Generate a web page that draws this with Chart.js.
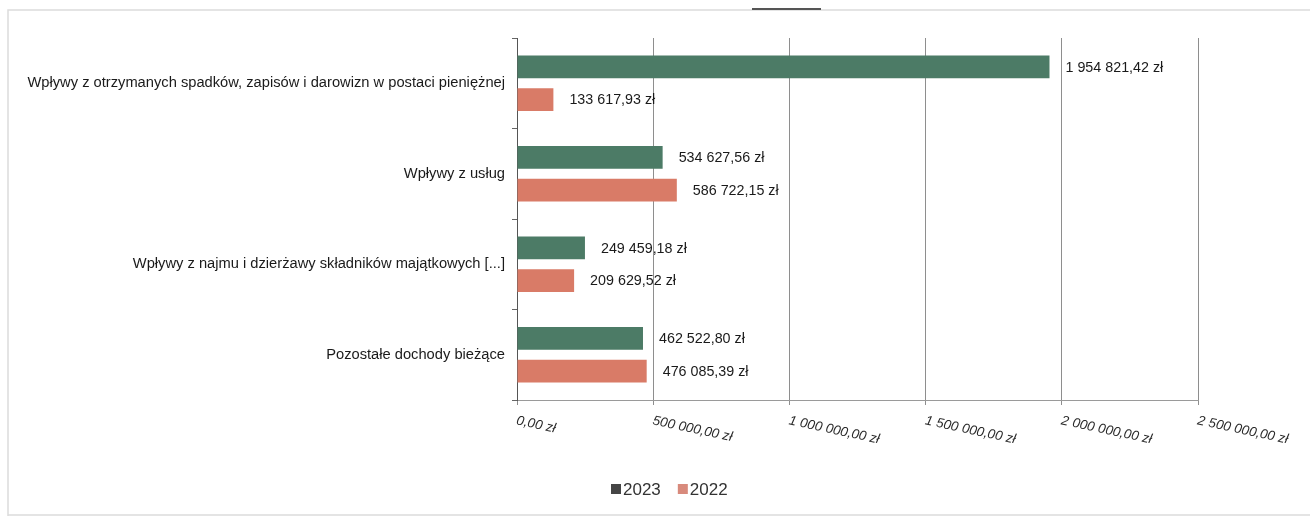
<!DOCTYPE html>
<html>
<head>
<meta charset="utf-8">
<script src="https://cdn.jsdelivr.net/npm/chart.js@4/dist/chart.umd.min.js"></script>
<style>
  html, body { margin: 0; padding: 0; background: #fff; }
  #wrap { width: 1310px; height: 519px; position: relative; }
</style>
</head>
<body>
<div id="wrap"><canvas id="myChart"></canvas></div>
<script>
// Chart data
const categories = [
    'Wpływy z otrzymanych spadków, zapisów i darowizn w postaci pieniężnej',
    'Wpływy z usług',
    'Wpływy z najmu i dzierżawy składników majątkowych [...]',
    'Pozostałe dochody bieżące'
];
const seriesNames = ['2023', '2022'];
const values2023 = [1954821.42, 534627.56, 249459.18, 462522.80];
const values2022 = [133617.93, 586722.15, 209629.52, 476085.39];
const xTicks = [0, 500000, 1000000, 1500000, 2000000, 2500000];

const barColors = ['#4c7b66', '#d97b67'];
const legendColors = ['#454545', '#d88a7c'];
const fontFamily = '"Liberation Sans", Arial, sans-serif';

// Polish money format: 1 954 821,42 zł
function formatZl(v) {
    const parts = v.toFixed(2).split('.');
    const intPart = parts[0].replace(/\B(?=(\d{3})+(?!\d))/g, ' ');
    return intPart + ',' + parts[1] + ' zł';
}

// Scan frame around the chart
const framePlugin = {
    id: 'frame',
    beforeDraw(chart) {
        const c = chart.ctx;
        c.save();
        c.strokeStyle = '#dcdcdc';
        c.lineWidth = 1.5;
        c.beginPath();
        c.moveTo(8, 516);
        c.lineTo(8, 10);
        c.lineTo(1310, 10);
        c.moveTo(8, 515);
        c.lineTo(1310, 515);
        c.stroke();
        c.strokeStyle = '#555';
        c.lineWidth = 2;
        c.beginPath();
        c.moveTo(752, 9);
        c.lineTo(821, 9);
        c.stroke();
        c.restore();
    }
};

// Value labels at the end of each bar
const valueLabels = {
    id: 'valueLabels',
    afterDatasetsDraw(chart) {
        const c = chart.ctx;
        c.save();
        c.font = '14.3px ' + fontFamily;
        c.fillStyle = '#1a1a1a';
        c.textAlign = 'left';
        c.textBaseline = 'middle';
        chart.data.datasets.forEach((ds, i) => {
            chart.getDatasetMeta(i).data.forEach((bar, j) => {
                c.fillText(formatZl(ds.data[j]), bar.x + 16, bar.y + 1);
            });
        });
        c.restore();
    }
};

// X tick labels slanted downwards, like in the source
const slantTicks = {
    id: 'slantTicks',
    afterDraw(chart) {
        const sc = chart.scales.x;
        const c = chart.ctx;
        c.save();
        c.font = 'italic 13.5px ' + fontFamily;
        c.fillStyle = '#2a2a2a';
        c.textAlign = 'left';
        c.textBaseline = 'top';
        sc.ticks.forEach((t) => {
            const x = sc.getPixelForValue(t.value);
            c.save();
            c.translate(x + 1, sc.top + 14);
            c.rotate(12 * Math.PI / 180);
            c.fillText(formatZl(t.value), 0, 0);
            c.restore();
        });
        c.restore();
    }
};

// Legend drawn by hand (legend marker for 2023 is dark grey in the source)
const bottomLegend = {
    id: 'bottomLegend',
    afterDraw(chart) {
        const c = chart.ctx;
        c.save();
        c.font = '17px ' + fontFamily;
        c.textBaseline = 'middle';
        c.textAlign = 'left';
        let x = 611;
        const y = 489;
        seriesNames.forEach((name, i) => {
            c.fillStyle = legendColors[i];
            c.fillRect(x, y - 5, 10, 10);
            c.fillStyle = '#333';
            c.fillText(name, x + 12, y + 1);
            x += 12 + c.measureText(name).width + 17;
        });
        c.restore();
    }
};

const canvas = document.getElementById('myChart');
const ctx = canvas.getContext('2d');

const myChart = new Chart(ctx, {
    type: 'bar',
    data: {
        labels: categories,
        datasets: [
            { label: seriesNames[0], data: values2023, backgroundColor: barColors[0] },
            { label: seriesNames[1], data: values2022, backgroundColor: barColors[1] }
        ]
    },
    options: {
        indexAxis: 'y',
        responsive: true,
        maintainAspectRatio: false,
        animation: false,
        categoryPercentage: 0.72,
        barPercentage: 0.7,
        layout: { padding: { top: 38, right: 112, left: 0, bottom: 0 } },
        plugins: {
            legend: { display: false },
            tooltip: { enabled: false }
        },
        scales: {
            x: {
                min: 0,
                max: 2500000,
                afterBuildTicks(scale) {
                    scale.ticks = xTicks.map(v => ({ value: v }));
                },
                afterFit(scale) { scale.height = 519 - 400; },
                grid: { color: '#8e8e8e', lineWidth: 1, tickLength: 5 },
                border: { color: '#9a9a9a' },
                ticks: { color: 'rgba(0,0,0,0)', maxRotation: 0, autoSkip: false, callback: v => formatZl(v) }
            },
            y: {
                afterFit(scale) { scale.width = 517; },
                grid: { drawOnChartArea: false, color: '#666', tickLength: 5 },
                border: { color: '#555' },
                ticks: {
                    color: '#1a1a1a',
                    padding: 7,
                    font: { family: fontFamily, size: 14.7 }
                }
            }
        }
    },
    plugins: [framePlugin, valueLabels, slantTicks, bottomLegend]
});
</script>
</body>
</html>
